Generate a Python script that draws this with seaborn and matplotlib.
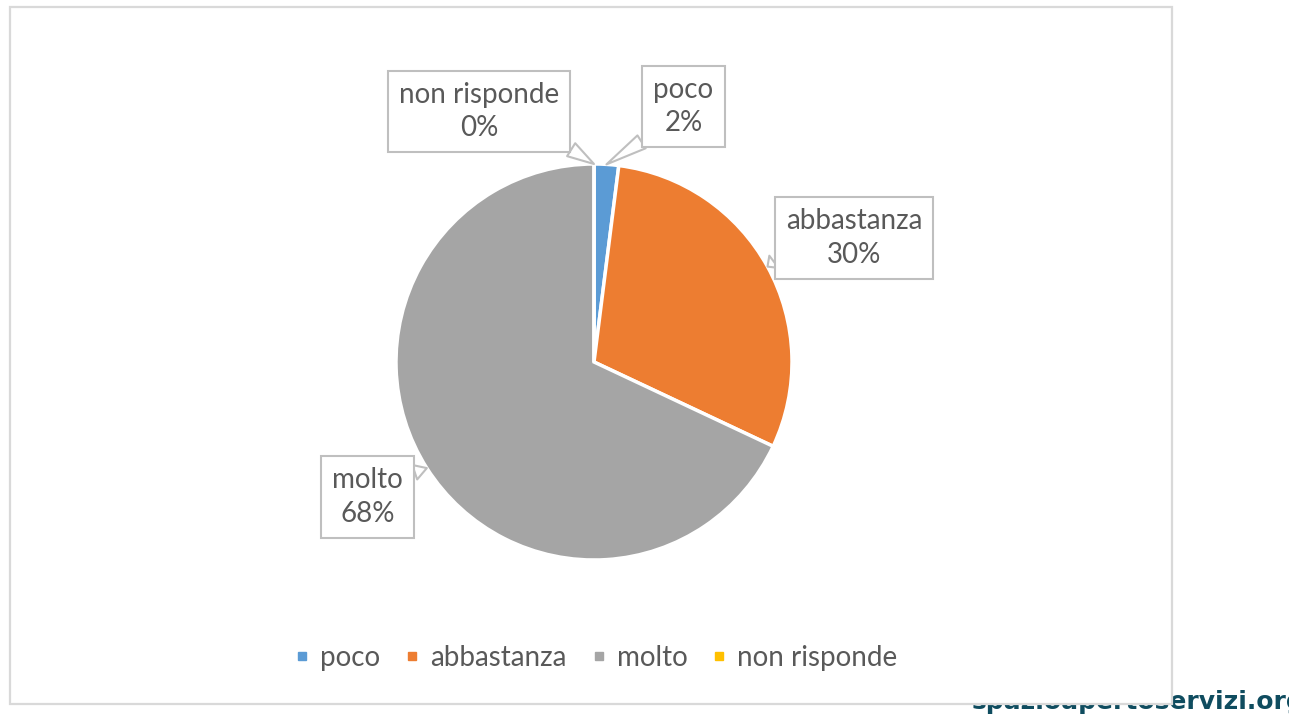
import numpy as np
import seaborn as sns
import matplotlib.pyplot as plt
from matplotlib.patches import Rectangle
from matplotlib.lines import Line2D

# data
categories = ['poco', 'abbastanza', 'molto', 'non risponde']
values = [2, 30, 68, 0]
colors = ['#5B9BD5', '#ED7D31', '#A5A5A5', '#FFC000']

# where the callout boxes sit (pie radius = 1, centre = 0,0)
label_pos = [(0.452, 1.29), (1.313, 0.626), (-1.144, -0.682), (-0.58, 1.265)]
label_relpos = [(0.04, 0.06), (0.0, 0.25), (1.0, 0.85), (0.96, 0.05)]

sns.set_theme(style='white')
plt.rcParams['font.family'] = ['Lato', 'DejaVu Sans']

W, H, R = 1289, 715, 198
cx, cy = 594, 362
fig = plt.figure(figsize=(W / 100, H / 100), dpi=100)
fig.patch.set_facecolor('white')

# watermark, partly hidden behind the chart frame
fig.text(972 / W, 1 - 709 / H, 'spazioapertoservizi.org', fontsize=18,
         fontweight='bold', color='#0F4C5F', family='DejaVu Sans',
         ha='left', va='baseline', zorder=0.5)

# chart frame
frame = Rectangle((10 / W, 1 - 704 / H), 1162 / W, 697 / H, transform=fig.transFigure,
                  facecolor='white', edgecolor='#D9D9D9', linewidth=1.6, zorder=1)
fig.patches.append(frame)

ax = fig.add_axes([0, 0, 1, 1])
ax.set_zorder(2)
ax.pie(values, colors=colors, startangle=90, counterclock=False, radius=1,
       wedgeprops=dict(edgecolor='white', linewidth=2.5))
ax.set_xlim(-cx / R, (W - cx) / R)
ax.set_ylim(-(H - cy) / R, cy / R)
ax.set_aspect('equal')
ax.axis('off')

# callout labels
fracs = np.array(values) / sum(values)
cum = np.concatenate([[0], np.cumsum(fracs)[:-1]])
for i, cat in enumerate(categories):
    theta = np.deg2rad(90 - 360 * (cum[i] + fracs[i] / 2))
    tip = (np.cos(theta), np.sin(theta))
    ax.annotate(f'{cat}\n{values[i]}%', xy=tip, xytext=label_pos[i],
                ha='center', va='center', multialignment='center',
                fontsize=20, color='#595959', linespacing=1.35,
                bbox=dict(boxstyle='square,pad=0.4', fc='white', ec='#BFBFBF', lw=1.5),
                arrowprops=dict(arrowstyle='wedge,tail_width=0.55,shrink_factor=0.5',
                                fc='white', ec='#BFBFBF', lw=1.5,
                                relpos=label_relpos[i], shrinkA=0, shrinkB=0))

handles = [Line2D([], [], marker='s', ls='', color=c, markersize=6) for c in colors]
leg = fig.legend(handles, categories, loc='center', bbox_to_anchor=(597 / W, 1 - 658 / H),
                 ncol=4, frameon=False, fontsize=20, handlelength=0.4,
                 handletextpad=0.45, columnspacing=0.95)
for t in leg.get_texts():
    t.set_color('#595959')

fig.savefig('out.png', dpi=100)
